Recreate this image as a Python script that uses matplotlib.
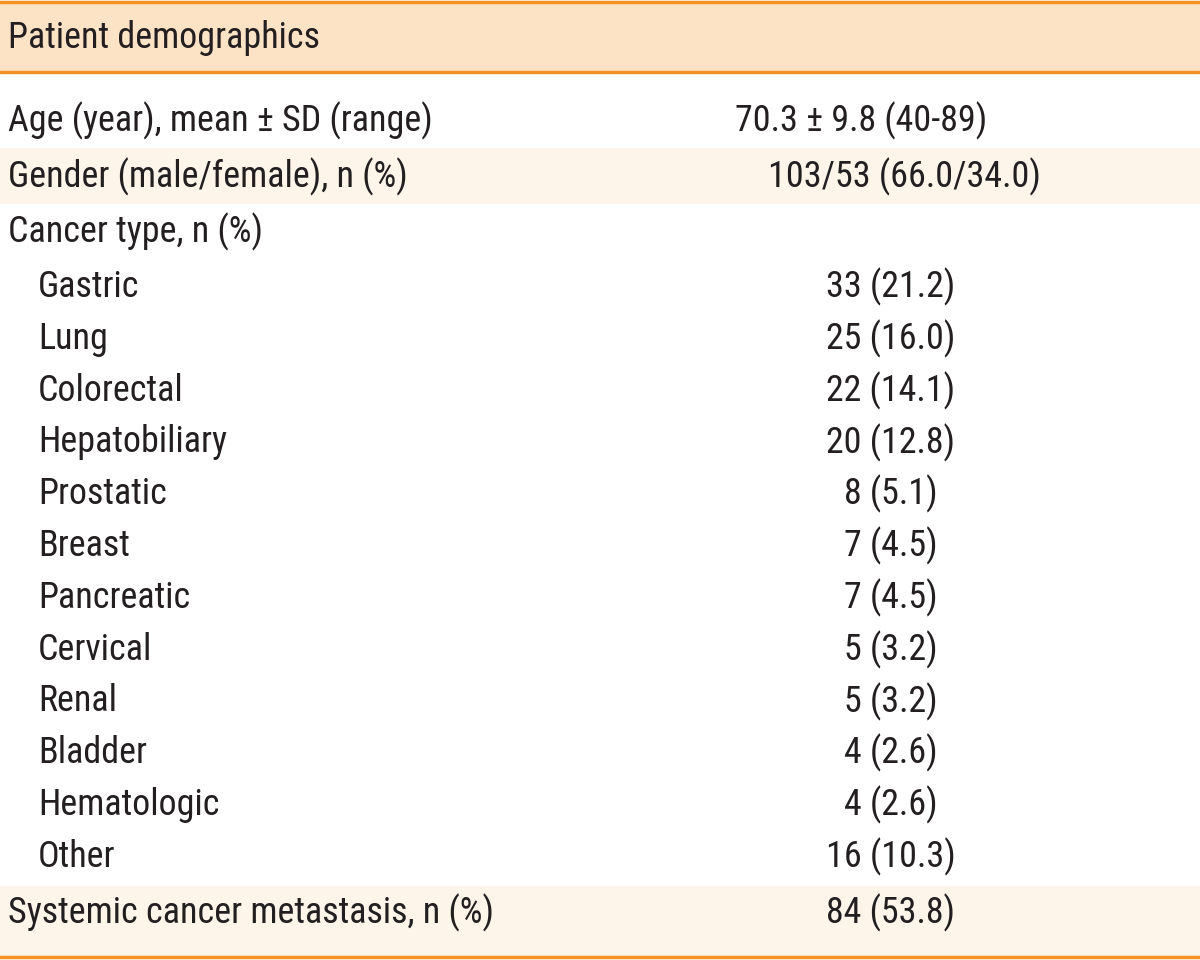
import matplotlib.pyplot as plt
from matplotlib import font_manager
from matplotlib.font_manager import FontProperties

HEADER = 'Patient demographics'
TOP_LABELS = ['Age (year), mean ± SD (range)', 'Gender (male/female), n (%)', 'Cancer type, n (%)']
TOP_VALUES = ['70.3 ± 9.8 (40-89)', '103/53 (66.0/34.0)', '']
CANCERS = ['Gastric', 'Lung', 'Colorectal', 'Hepatobiliary', 'Prostatic', 'Breast',
           'Pancreatic', 'Cervical', 'Renal', 'Bladder', 'Hematologic', 'Other']
CANCER_N = [33, 25, 22, 20, 8, 7, 7, 5, 5, 4, 4, 16]
CANCER_PCT = [21.2, 16.0, 14.1, 12.8, 5.1, 4.5, 4.5, 3.2, 3.2, 2.6, 2.6, 10.3]
LAST_LABEL = 'Systemic cancer metastasis, n (%)'
LAST_VALUE = '84 (53.8)'

ORANGE = '#f39325'
HEAD_FILL = '#fde3c6'
BAND_FILL = '#fdf4ea'
TXT = '#231f20'


def pick_font():
    fonts = font_manager.fontManager.ttflist
    keys = ['robotocondensed-regular', 'liberationsansnarrow-regular',
            'dejavusanscondensed.ttf', 'opensans_condensed-regular', 'opensanscondensed']
    for k in keys:
        for f in fonts:
            if k in f.fname.lower().replace(' ', ''):
                return FontProperties(fname=f.fname)
    for f in fonts:
        n = f.fname.lower()
        if ('condensed' in n or 'narrow' in n) and 'bold' not in n and 'italic' not in n \
                and 'oblique' not in n and 'light' not in n:
            return FontProperties(fname=f.fname)
    return FontProperties(family='DejaVu Sans', stretch='condensed')


fp = pick_font()

fig = plt.figure(figsize=(12, 9.6), dpi=100)
ax = fig.add_axes([0, 0, 1, 1])
ax.set_xlim(0, 1200)
ax.set_ylim(960, 0)
ax.axis('off')

# size the font so the age label is as wide as in the reference (~424 px)
probe = ax.text(0, 0, TOP_LABELS[0], fontproperties=fp, fontsize=24)
fig.canvas.draw()
w = probe.get_window_extent().width
probe.remove()
fs = 24 * 424 / w

# header
ax.axhspan(2, 72, color=HEAD_FILL, lw=0)
ax.axhline(1.5, color=ORANGE, lw=2.5)
ax.axhline(72, color=ORANGE, lw=2.5)
ax.text(8, 38, HEADER, fontproperties=fp, fontsize=fs, color=TXT, va='center')

# shaded bands
ax.axhspan(148, 204, color=BAND_FILL, lw=0)
ax.axhspan(886, 956, color=BAND_FILL, lw=0)

val_x = [861, 904, 891]
for i, (lab, val) in enumerate(zip(TOP_LABELS, TOP_VALUES)):
    y = 121 + i * 55.5
    ax.text(8, y, lab, fontproperties=fp, fontsize=fs, color=TXT, va='center')
    ax.text(val_x[i], y, val, fontproperties=fp, fontsize=fs,
            color=TXT, va='center', ha='center')

for i, (c, n, p) in enumerate(zip(CANCERS, CANCER_N, CANCER_PCT)):
    y = 287 + i * 51.8
    ax.text(38, y, c, fontproperties=fp, fontsize=fs, color=TXT, va='center')
    ax.text(891, y, f'{n} ({p:.1f})', fontproperties=fp, fontsize=fs,
            color=TXT, va='center', ha='center')

ax.text(8, 913, LAST_LABEL, fontproperties=fp, fontsize=fs, color=TXT, va='center')
ax.text(891, 913, LAST_VALUE, fontproperties=fp, fontsize=fs, color=TXT, va='center', ha='center')

ax.axhline(957, color=ORANGE, lw=2.5)

fig.savefig('out.png', dpi=100)
